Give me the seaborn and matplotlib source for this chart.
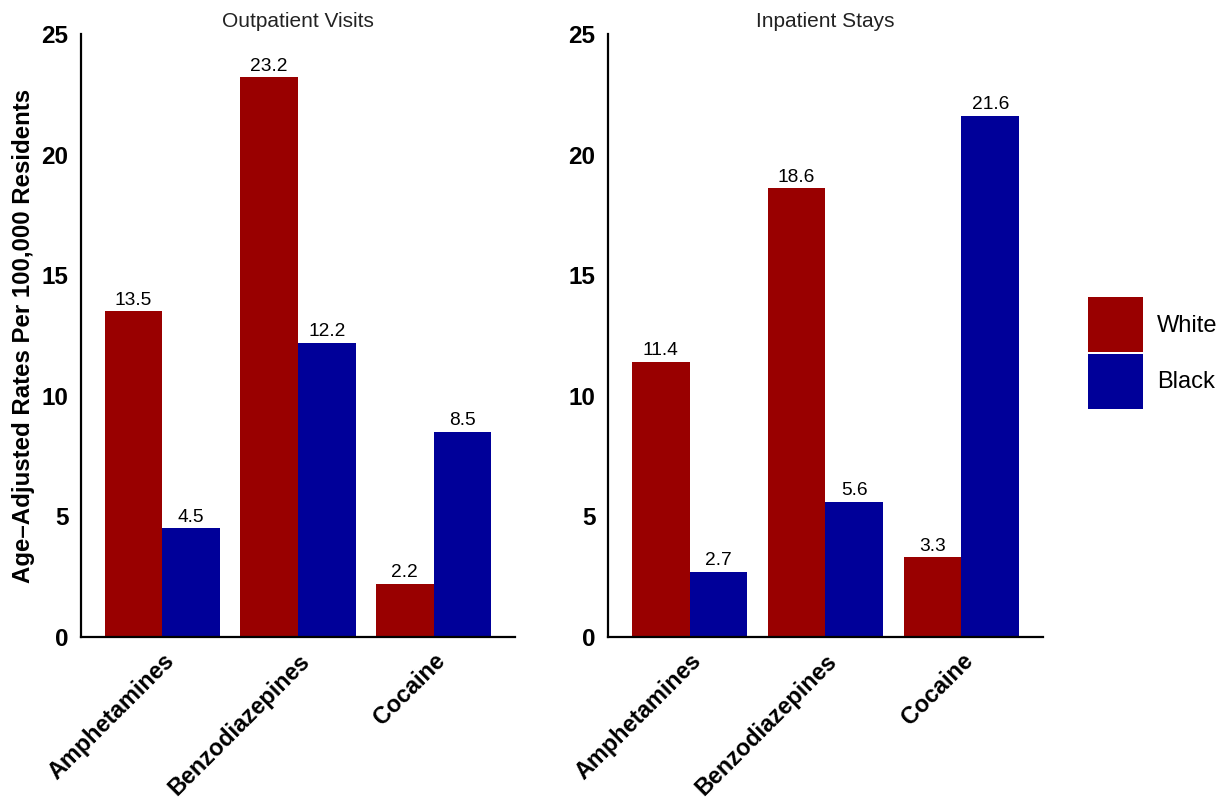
import pandas as pd
import numpy as np
import seaborn as sns
import matplotlib.pyplot as plt

sns.set_style("white")
plt.rcParams['font.family'] = ['Liberation Sans', 'DejaVu Sans']
plt.rcParams['text.color'] = 'black'
plt.rcParams['xtick.color'] = 'black'
plt.rcParams['ytick.color'] = 'black'
plt.rcParams['axes.labelcolor'] = 'black'

drugs = ["Amphetamines", "Benzodiazepines", "Cocaine"]
races = ["White", "Black"]
outpatient_white = [13.5, 23.2, 2.2]
outpatient_black = [4.5, 12.2, 8.5]
inpatient_white = [11.4, 18.6, 3.3]
inpatient_black = [2.7, 5.6, 21.6]
panel_titles = ["Outpatient Visits", "Inpatient Stays"]
colors = {"White": "#990000", "Black": "#000099"}

def make_df(white, black):
    return pd.DataFrame({
        "drug": drugs * 2,
        "race": ["White"] * 3 + ["Black"] * 3,
        "rate": white + black,
    })

dfs = [make_df(outpatient_white, outpatient_black),
       make_df(inpatient_white, inpatient_black)]

fig = plt.figure(figsize=(12.25, 8.1), dpi=100)
ax1 = fig.add_axes([0.0661, 0.2136, 0.3543, 0.7444])
ax2 = fig.add_axes([0.4963, 0.2136, 0.3551, 0.7444])

for ax, df, title in zip([ax1, ax2], dfs, panel_titles):
    sns.barplot(data=df, x="drug", y="rate", hue="race", order=drugs,
                hue_order=races, palette=colors, width=0.85, gap=0,
                saturation=1, errorbar=None, ax=ax, legend=True, linewidth=0)
    for c in ax.containers:
        ax.bar_label(c, fmt="%.1f", padding=2, fontsize=13.8)
    ax.set_xlim(-0.6, 2.6)
    ax.set_ylim(0, 25)
    ax.set_yticks([0, 5, 10, 15, 20, 25])
    ax.set_xlabel("")
    ax.set_ylabel("")
    ax.set_title(title, fontsize=15, color="#222222", pad=5)
    sns.despine(ax=ax)
    for s in ["left", "bottom"]:
        ax.spines[s].set_linewidth(1.6)
        ax.spines[s].set_color("black")
    ax.tick_params(axis="y", length=5, width=1.4, labelsize=17.5, pad=4)
    ax.tick_params(axis="x", length=0, pad=9)
    for lab in ax.get_yticklabels():
        lab.set_fontweight("bold")
    ax.set_xticks(range(3))
    ax.set_xticklabels(drugs, rotation=45, ha="right", va="top",
                       rotation_mode="anchor", fontsize=16.8, fontweight="bold")
    handles, labels = ax.get_legend_handles_labels()
    ax.get_legend().remove()

ax1.set_ylabel("Age\u2013Adjusted Rates Per 100,000 Residents", fontsize=17.3,
               fontweight="bold", labelpad=5)

fig.legend(handles, labels, loc="center left", bbox_to_anchor=(0.888, 0.564),
           frameon=False, fontsize=17, handlelength=2.33, handleheight=3.2,
           labelspacing=0.08, handletextpad=0.6, borderpad=0, borderaxespad=0)

fig.savefig("out.png", dpi=100)
